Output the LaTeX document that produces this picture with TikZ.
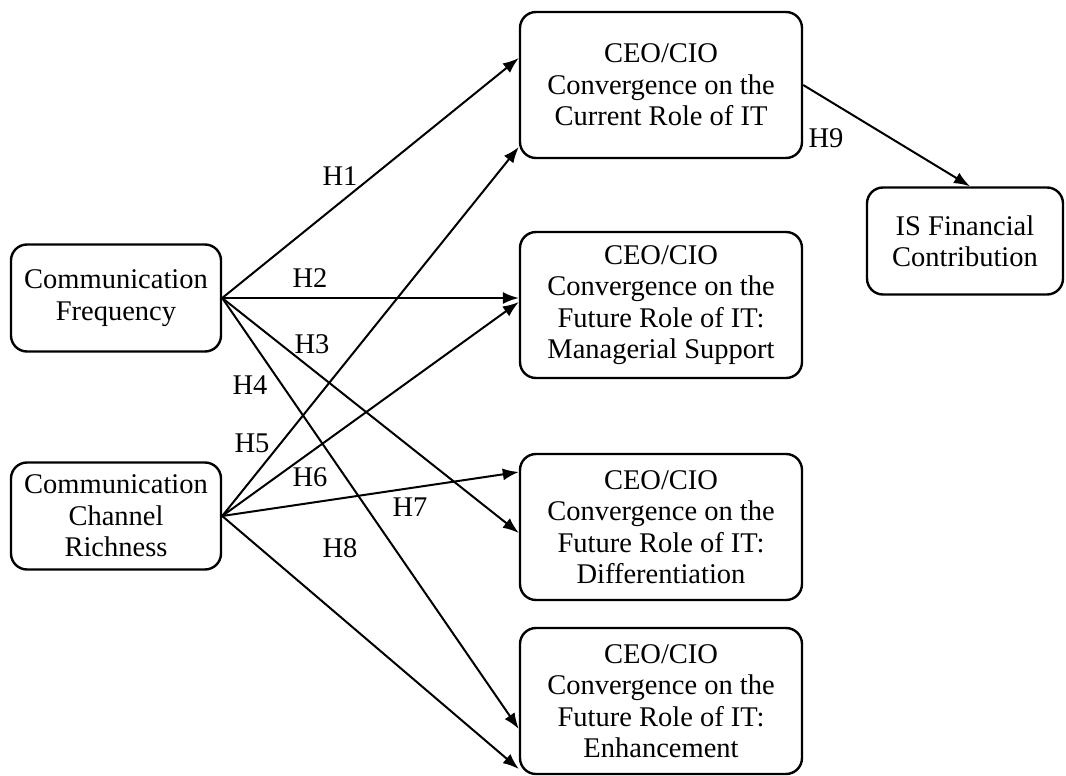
\documentclass[tikz,border=0pt]{standalone}
\usepackage{fontspec}
\setmainfont{Liberation Serif}
\usetikzlibrary{arrows.meta,calc}
\begin{document}
\begin{tikzpicture}[x=1pt,y=-1pt,
  txt/.style={font=\fontsize{28.5}{31.5}\selectfont},
  box/.style={txt, draw, line width=2.4pt, rounded corners=16pt, align=center, inner sep=0pt},
  rolebox/.style={box, minimum width=282pt, minimum height=146pt},
  srcbox/.style={box, minimum width=210pt, minimum height=107pt},
  hyp/.style={txt, inner sep=0pt},
  link/.style={line width=2pt, -{Latex[length=16pt,width=12pt]}}]
\useasboundingbox (0,0) rectangle (1066,776);

% constructs
\node[srcbox] (frq) at (116,298) {Communication\\Frequency};
\node[srcbox] (rch) at (116,516) {Communication\\Channel\\Richness};
\node[rolebox] (cur) at (661,85) {CEO/CIO\\Convergence on the\\Current Role of IT};
\node[rolebox] (mgr) at (661,305) {CEO/CIO\\Convergence on the\\Future Role of IT:\\Managerial Support};
\node[rolebox] (dif) at (661,527) {CEO/CIO\\Convergence on the\\Future Role of IT:\\Differentiation};
\node[rolebox] (enh) at (661,701) {CEO/CIO\\Convergence on the\\Future Role of IT:\\Enhancement};
\node[box, minimum width=196pt, minimum height=107pt] (isf) at (965,241) {IS Financial\\Contribution};

% hypothesised paths
\draw[link] (frq.east) -- ($(cur.west)+(0,-27)$);
\draw[link] (frq.east) -- (frq.east -| mgr.west);
\draw[link] (frq.east) -- ($(dif.west)+(0,6)$);
\draw[link] (frq.east) -- ($(enh.west)+(0,28)$);
\draw[link] (rch.east) -- ($(cur.west)+(0,62)$);
\draw[link] (rch.east) -- ($(mgr.west)+(0,-3)$);
\draw[link] (rch.east) -- ($(dif.west)+(0,-55)$);
\draw[link] (rch.east) -- ($(enh.west)+(0,68)$);
\draw[link] (cur.east) -- ($(isf.north)+(5,0)$);

% path labels
\node[hyp] (h1) at (340,176) {H1};
\node[hyp] (h2) at (310,278) {H2};
\node[hyp] (h3) at (312,344) {H3};
\node[hyp] (h4) at (250,385) {H4};
\node[hyp] (h5) at (252,443) {H5};
\node[hyp] (h6) at (310,477) {H6};
\node[hyp] (h7) at (410,507) {H7};
\node[hyp] (h8) at (340,548) {H8};
\node[hyp] (h9) at (826,138) {H9};
\end{tikzpicture}
\end{document}
